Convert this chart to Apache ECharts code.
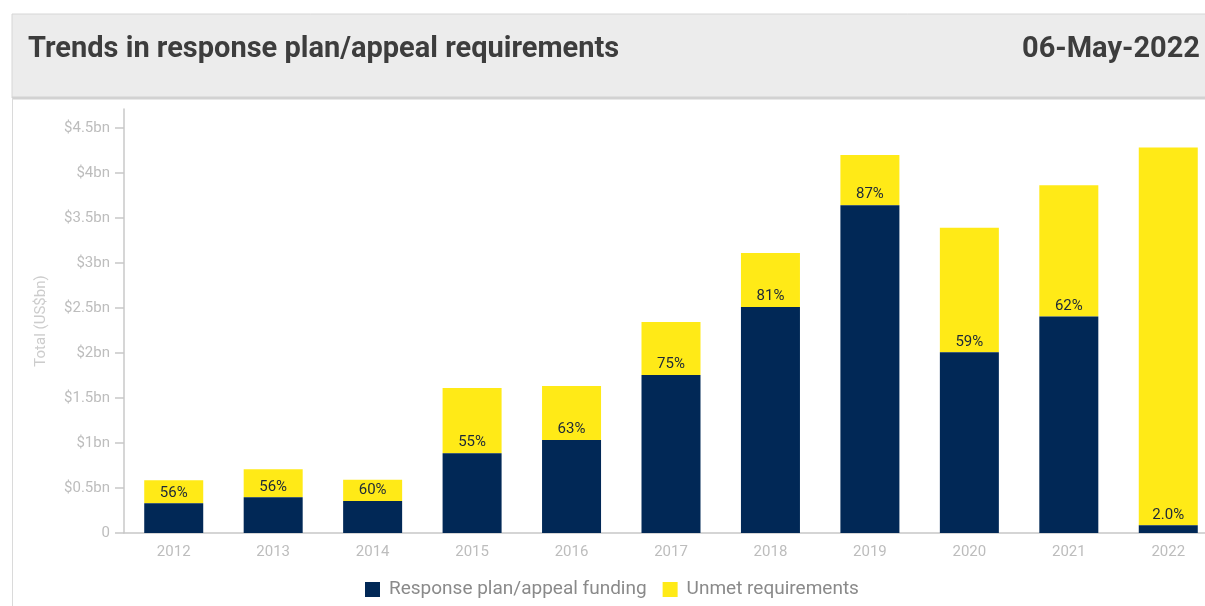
<!DOCTYPE html>
<html>
<head>
<meta charset="utf-8">
<script src="https://cdn.jsdelivr.net/npm/echarts@6/dist/echarts.min.js"></script>
<style>
  html, body { margin: 0; padding: 0; background: #fff; }
  #chart { width: 1205px; height: 606px; }
</style>
</head>
<body>
<div id="chart"></div>
<script>
// Years shown on the category axis
const years = ['2012', '2013', '2014', '2015', '2016', '2017', '2018', '2019', '2020', '2021', '2022'];
// Funding received against response plans/appeals (US$ bn)
const funding = [0.33, 0.397, 0.355, 0.886, 1.033, 1.756, 2.51, 3.641, 2.007, 2.404, 0.085];
// Requirements still unmet (US$ bn)
const unmet = [0.255, 0.311, 0.237, 0.724, 0.600, 0.588, 0.600, 0.559, 1.385, 1.459, 4.196];
// Value-axis tick positions (US$ bn)
const yTicks = [0, 0.5, 1, 1.5, 2, 2.5, 3, 3.5, 4, 4.5];

const FONT = 'Roboto';
const NAVY = '#012856';
const YELLOW = '#ffea17';

function coverageLabel(i) {
  const pct = funding[i] / (funding[i] + unmet[i]) * 100;
  return pct < 10 ? pct.toFixed(1) + '%' : Math.round(pct) + '%';
}

function moneyLabel(v) {
  if (v === 0) return '0';
  return '$' + v + 'bn';
}

const chart = echarts.init(document.getElementById('chart'), null, { renderer: 'canvas' });

chart.setOption({
  animation: false,
  textStyle: { fontFamily: FONT },
  graphic: [
    // panel header background and frame
    { type: 'rect', z: 0, shape: { x: 12, y: 14, width: 1200, height: 84 },
      style: { fill: '#ececec', stroke: '#d6d6d6', lineWidth: 1 } },
    { type: 'line', z: 0, shape: { x1: 12, y1: 98, x2: 1205, y2: 98 },
      style: { stroke: '#d2d2d2', lineWidth: 3 } },
    { type: 'line', z: 0, shape: { x1: 12.5, y1: 98, x2: 12.5, y2: 606 },
      style: { stroke: '#dadada', lineWidth: 1 } }
  ],
  title: [
    {
      text: 'Trends in response plan/appeal requirements',
      left: 28, top: 35, padding: 0,
      textStyle: { fontFamily: FONT, fontSize: 29, fontWeight: 'bold', color: '#3d3d3d' }
    },
    {
      text: '06-May-2022',
      right: 5, top: 35, padding: 0,
      textStyle: { fontFamily: FONT, fontSize: 29, fontWeight: 'bold', color: '#3d3d3d' }
    }
  ],
  legend: {
    bottom: 2,
    left: 360,
    icon: 'rect',
    itemWidth: 15,
    itemHeight: 15,
    itemGap: 16,
    textStyle: { fontFamily: FONT, fontSize: 19, color: '#8a8a8a', padding: [0, 0, 0, 4] },
    data: ['Response plan/appeal funding', 'Unmet requirements']
  },
  // plot area runs past the right edge of the canvas
  grid: { left: 124, width: 1094, top: 109, bottom: 73, containLabel: false, outerBoundsMode: 'none' },
  xAxis: {
    type: 'category',
    data: years,
    axisLine: { lineStyle: { color: '#c8c8c8', width: 1.5 } },
    axisTick: { alignWithLabel: true, length: 8, lineStyle: { color: '#c8c8c8', width: 1.5 } },
    axisLabel: { margin: 12, fontFamily: FONT, fontSize: 15, color: '#bdbdbd' }
  },
  yAxis: {
    type: 'value',
    min: 0,
    max: 4.71,
    name: 'Total (US$bn)',
    nameLocation: 'middle',
    nameGap: 75,
    nameTextStyle: { fontFamily: FONT, fontSize: 15, color: '#cccccc' },
    splitLine: { show: false },
    axisLine: { show: true, lineStyle: { color: '#c8c8c8', width: 1.5 } },
    axisTick: { show: true, length: 9, customValues: yTicks, lineStyle: { color: '#c8c8c8', width: 1.5 } },
    axisLabel: {
      customValues: yTicks,
      margin: 14,
      fontFamily: FONT, fontSize: 15, color: '#bdbdbd',
      formatter: moneyLabel
    }
  },
  series: [
    {
      name: 'Response plan/appeal funding',
      type: 'bar',
      stack: 'total',
      barWidth: 59,
      z: 3,
      itemStyle: { color: NAVY },
      label: {
        show: true,
        position: 'top',
        distance: 3,
        fontFamily: FONT,
        fontSize: 15,
        color: '#1c2838',
        formatter: p => coverageLabel(p.dataIndex)
      },
      data: funding
    },
    {
      name: 'Unmet requirements',
      type: 'bar',
      stack: 'total',
      barWidth: 59,
      z: 2,
      itemStyle: { color: YELLOW },
      data: unmet
    }
  ]
});
</script>
</body>
</html>
